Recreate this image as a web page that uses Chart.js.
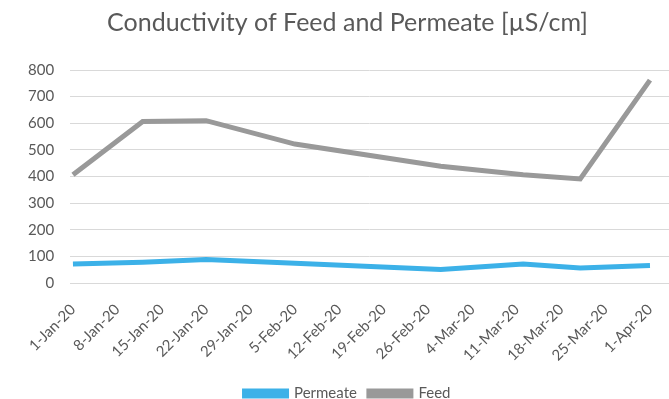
<!DOCTYPE html>
<html>
<head>
<meta charset="utf-8">
<script src="https://cdn.jsdelivr.net/npm/chart.js@4/dist/chart.umd.min.js"></script>
<style>
  html, body { margin: 0; padding: 0; background: #fff; }
  #wrap { width: 669px; height: 399px; }
</style>
</head>
<body>
<div id="wrap"><canvas id="chart" width="669" height="399"></canvas></div>
<script>
// data
const fechas = ["2020-01-01", "2020-01-12", "2020-01-22", "2020-02-05", "2020-02-28", "2020-03-12", "2020-03-21", "2020-04-01"];
const permeate = [72, 79, 89, 75, 51, 72, 57, 66];
const feed = [407, 607, 610, 522, 439, 407, 391, 762];
const yTicks = [0, 100, 200, 300, 400, 500, 600, 700, 800];

const meses = ["Jan", "Feb", "Mar", "Apr", "May", "Jun", "Jul", "Aug", "Sep", "Oct", "Nov", "Dec"];
const inicio = Date.UTC(2020, 0, 1);
const DIA = 86400000;

function dia(s) {
  const p = s.split("-").map(Number);
  return (Date.UTC(p[0], p[1] - 1, p[2]) - inicio) / DIA;
}
function etiqueta(d) {
  const f = new Date(inicio + d * DIA);
  return f.getUTCDate() + "-" + meses[f.getUTCMonth()] + "-" + String(f.getUTCFullYear()).slice(2);
}

const txt = "#595959";
const fuente = "Lato, 'Open Sans', sans-serif";

new Chart(document.getElementById("chart").getContext("2d"), {
  type: "line",
  data: {
    datasets: [
      {
        label: "Permeate",
        data: fechas.map((f, i) => ({ x: dia(f), y: permeate[i] })),
        borderColor: "#3cb1e8",
        backgroundColor: "#3cb1e8",
        borderWidth: 5,
        pointRadius: 0,
        tension: 0
      },
      {
        label: "Feed",
        data: fechas.map((f, i) => ({ x: dia(f), y: feed[i] })),
        borderColor: "#999999",
        backgroundColor: "#999999",
        borderWidth: 5,
        pointRadius: 0,
        tension: 0
      }
    ]
  },
  options: {
    responsive: false,
    animation: false,
    // el lado derecho negativo centra título y leyenda como en la imagen
    layout: { padding: { left: 12, right: -14, top: 8, bottom: -12 } },
    plugins: {
      title: {
        display: true,
        text: "Conductivity of Feed and Permeate [µS/cm]",
        color: txt,
        font: { family: fuente, size: 25, weight: "normal" },
        padding: { top: 0, bottom: 32 }
      },
      legend: {
        position: "bottom",
        labels: {
          color: txt,
          font: { family: fuente, size: 15 },
          boxWidth: 42,
          boxHeight: 5,
          padding: 12
        }
      },
      tooltip: { enabled: false }
    },
    scales: {
      x: {
        type: "linear",
        min: -0.45,
        max: 94,
        afterBuildTicks: (axis) => {
          const t = [];
          for (let d = 0; d <= 91; d += 7) t.push({ value: d });
          axis.ticks = t;
        },
        afterFit: (axis) => {
          axis.paddingRight = 0;
          axis.paddingLeft = 0;
        },
        ticks: {
          color: txt,
          font: { family: fuente, size: 15 },
          maxRotation: 45,
          minRotation: 45,
          autoSkip: false,
          padding: 9.5,
          callback: (v) => etiqueta(v)
        },
        grid: { display: false },
        border: { display: true, color: "#d9d9d9", width: 1 }
      },
      y: {
        min: 0,
        max: 800,
        afterBuildTicks: (axis) => {
          axis.ticks = yTicks.map(v => ({ value: v }));
        },
        ticks: {
          color: txt,
          font: { family: fuente, size: 15 },
          padding: 16
        },
        grid: { color: "#d9d9d9", drawTicks: false },
        border: { display: false }
      }
    }
  }
});
</script>
</body>
</html>
